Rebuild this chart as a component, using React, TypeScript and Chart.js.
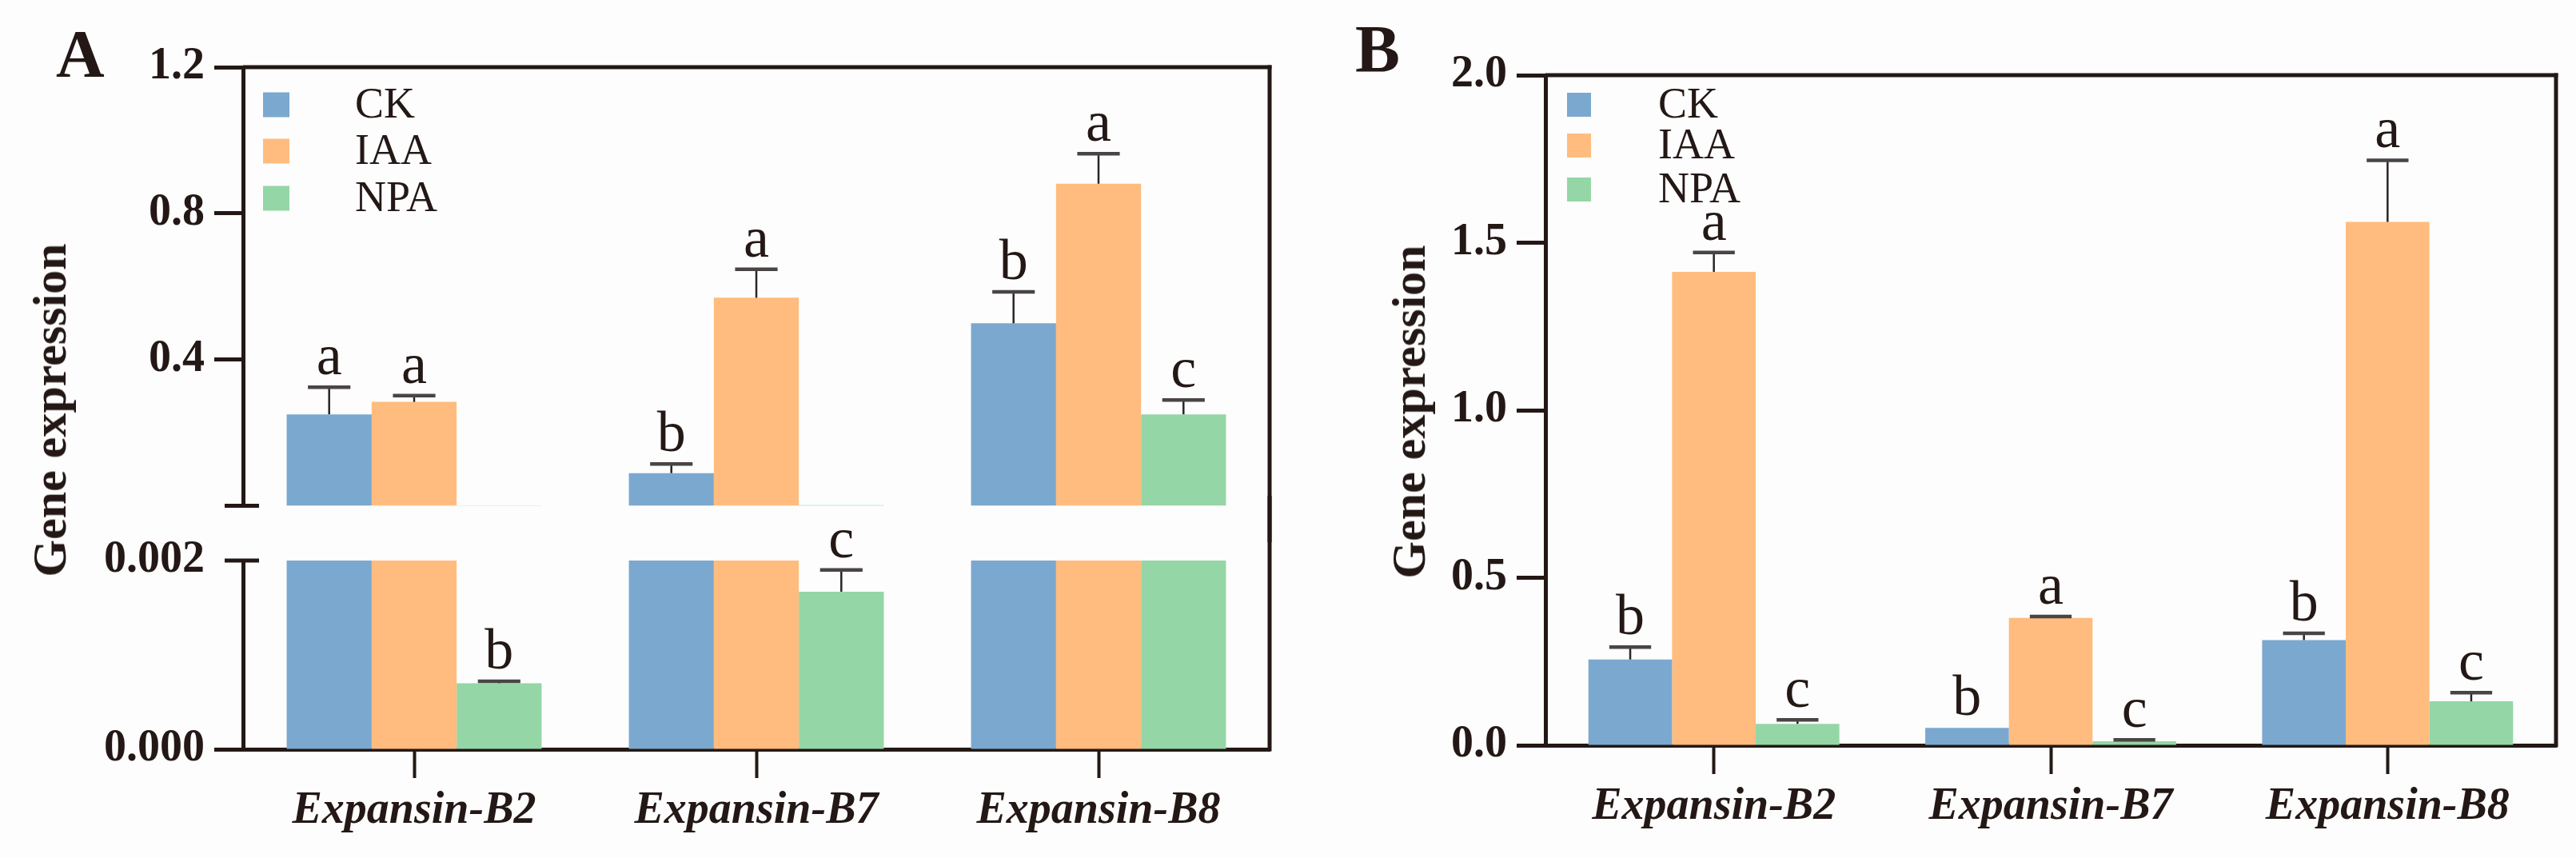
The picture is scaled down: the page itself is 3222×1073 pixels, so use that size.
import { useEffect, useRef } from "react";
import { Chart, registerables } from "chart.js";

Chart.register(...registerables);

const INK = "#231815";
const SERIF = "'Liberation Serif', 'Times New Roman', serif";

const genes = ["Expansin-B2", "Expansin-B7", "Expansin-B8"];
const treatments = ["CK", "IAA", "NPA"];
const barColors = ["#7ba8cf", "#ffbc7e", "#95d6a6"];

// panel A (broken axis): mean, upper SD, letters
const aCK = [0.25, 0.089, 0.499];
const aCKErr = [0.074, 0.025, 0.086];
const aCKSig = ["a", "b", "b"];
const aIAA = [0.284, 0.569, 0.881];
const aIAAErr = [0.017, 0.078, 0.082];
const aIAASig = ["a", "a", "a"];
const aNPA = [0.0007, 0.00167, 0.25];
const aNPAErr = [0.00002, 0.00023, 0.039];
const aNPASig = ["b", "c", "c"];
const aUpperTicks = [0.4, 0.8, 1.2];
const aLowerTicks = [0, 0.002];
const aBreak = 0.002;

// panel B
const bCK = [0.256, 0.052, 0.314];
const bCKErr = [0.037, 0, 0.02];
const bCKSig = ["b", "b", "b"];
const bIAA = [1.413, 0.38, 1.562];
const bIAAErr = [0.058, 0.004, 0.184];
const bIAASig = ["a", "a", "a"];
const bNPA = [0.064, 0.012, 0.131];
const bNPAErr = [0.012, 0.004, 0.026];
const bNPASig = ["c", "c", "c"];
const bTicks = [0, 0.5, 1.0, 1.5, 2.0];

type Spec = {
  means: number[][];
  errs: number[][];
  sigs: string[][];
  show: (v: number) => boolean;
  clamp: number;
  min: number;
  max: number;
  ticks: number[];
  digits: number;
  yWidth: number;
  pad: { top: number; right: number; bottom: number };
  xHeight: number | null;
  legend: { boxX: number; textX: number; ys: number[]; w: number; h: number } | null;
  caps: number[];
  hideTick: number | null;
  borderTop: boolean;
  rightFromCanvas: boolean;
  rightToCanvas: boolean;
};

const line = (ctx: CanvasRenderingContext2D, x1: number, y1: number, x2: number, y2: number, w: number, c: string) => {
  ctx.beginPath();
  ctx.lineWidth = w;
  ctx.strokeStyle = c;
  ctx.moveTo(x1, y1);
  ctx.lineTo(x2, y2);
  ctx.stroke();
};

const decor = (s: Spec) => ({
  id: "decor",
  afterDatasetsDraw(chart: any) {
    const ctx: CanvasRenderingContext2D = chart.ctx;
    const y = chart.scales.y;
    ctx.save();
    s.means.forEach((series, d) => {
      const meta = chart.getDatasetMeta(d);
      series.forEach((v, i) => {
        if (!s.show(v)) return;
        const bar = meta.data[i];
        const x = bar.x;
        const half = bar.width / 4;
        const err = s.errs[d][i];
        const yBar = y.getPixelForValue(v);
        const yTop = y.getPixelForValue(v + err);
        if (err > 0) {
          line(ctx, x, yBar, x, yTop, 2.5, "#2a2424");
          line(ctx, x - half, yTop, x + half, yTop, 4.5, "#4a4545");
        }
        ctx.fillStyle = INK;
        ctx.font = `72px ${SERIF}`;
        ctx.textAlign = "center";
        ctx.textBaseline = "alphabetic";
        ctx.fillText(s.sigs[d][i], x, Math.min(yTop, yBar) - 16);
      });
    });
    ctx.restore();
  },
  afterDraw(chart: any) {
    const ctx: CanvasRenderingContext2D = chart.ctx;
    const a = chart.chartArea;
    const y = chart.scales.y;
    ctx.save();
    if (s.borderTop) line(ctx, a.left, a.top, a.right + 2.5, a.top, 5, INK);
    line(ctx, a.right, s.rightFromCanvas ? 0 : a.top - 2.5, a.right, s.rightToCanvas ? chart.height : a.bottom + 2.5, 5, INK);
    s.caps.forEach((v) => {
      const py = y.getPixelForValue(v);
      line(ctx, a.left - 23, py, a.left + 20, py, 5, INK);
    });
    if (s.legend) {
      const L = s.legend;
      treatments.forEach((t, k) => {
        ctx.fillStyle = barColors[k];
        ctx.fillRect(L.boxX, L.ys[k] - L.h / 2, L.w, L.h);
        ctx.fillStyle = INK;
        ctx.font = `54px ${SERIF}`;
        ctx.textAlign = "left";
        ctx.textBaseline = "middle";
        ctx.fillText(t, L.textX, L.ys[k] + 2);
      });
    }
    ctx.restore();
  },
});

function buildConfig(s: Spec): any {
  return {
    type: "bar",
    data: {
      labels: genes,
      datasets: s.means.map((series, d) => ({
        label: treatments[d],
        data: series.map((v) => Math.min(v, s.clamp)),
        backgroundColor: barColors[d],
        borderWidth: 0,
        categoryPercentage: 0.745,
        barPercentage: 1,
      })),
    },
    options: {
      animation: false,
      responsive: true,
      maintainAspectRatio: false,
      events: [],
      layout: { padding: { left: 0, top: s.pad.top, right: s.pad.right, bottom: s.pad.bottom } },
      plugins: { legend: { display: false }, tooltip: { enabled: false } },
      scales: {
        x: {
          display: s.xHeight !== null,
          z: 1,
          grid: { offset: false, drawOnChartArea: false, drawTicks: true, tickLength: 36, tickWidth: 4, tickColor: INK },
          border: { display: true, color: INK, width: 5 },
          ticks: {
            color: INK,
            padding: 8,
            maxRotation: 0,
            autoSkip: false,
            font: { family: SERIF, size: 56, weight: "bold", style: "italic" },
          },
          afterFit: (sc: any) => {
            if (s.xHeight !== null) sc.height = s.xHeight;
          },
        },
        y: {
          min: s.min,
          max: s.max,
          z: 1,
          afterBuildTicks: (sc: any) => {
            sc.ticks = s.ticks.map((value) => ({ value }));
          },
          afterFit: (sc: any) => {
            sc.width = s.yWidth;
          },
          grid: {
            drawOnChartArea: false,
            drawTicks: true,
            tickLength: 36,
            tickWidth: 5,
            tickColor: (c: any) => (c.tick && c.tick.value === s.hideTick ? "rgba(0,0,0,0)" : INK),
          },
          border: { display: true, color: INK, width: 5 },
          ticks: {
            color: INK,
            padding: 12,
            font: { family: SERIF, size: 56, weight: "bold" },
            callback: (v: any) => Number(v).toFixed(s.digits),
          },
        },
      },
    },
    plugins: [decor(s)],
  };
}

const aMeans = [aCK, aIAA, aNPA];
const aErrs = [aCKErr, aIAAErr, aNPAErr];
const aSigs = [aCKSig, aIAASig, aNPASig];

// upper piece of panel A: canvas 0..678, plot bottom at 638
const upperSpec: Spec = {
  means: aMeans,
  errs: aErrs,
  sigs: aSigs,
  show: (v) => v > aBreak,
  clamp: Infinity,
  min: 0,
  max: 1.2,
  ticks: aUpperTicks,
  digits: 1,
  yWidth: 304,
  pad: { top: 84, right: 23, bottom: 40 },
  xHeight: null,
  legend: { boxX: 329, textX: 444, ys: [131, 189, 248], w: 33, h: 31 },
  caps: [0],
  hideTick: null,
  borderTop: true,
  rightFromCanvas: false,
  rightToCanvas: true,
};

// lower piece of panel A: canvas 620..1073, plot top at 701
const lowerSpec: Spec = {
  means: aMeans,
  errs: aErrs,
  sigs: aSigs,
  show: (v) => v <= aBreak,
  clamp: aBreak,
  min: 0,
  max: aBreak,
  ticks: aLowerTicks,
  digits: 3,
  yWidth: 304,
  pad: { top: 81, right: 23, bottom: 0 },
  xHeight: 136,
  legend: null,
  caps: [aBreak],
  hideTick: aBreak,
  borderTop: false,
  rightFromCanvas: true,
  rightToCanvas: false,
};

const bSpec: Spec = {
  means: [bCK, bIAA, bNPA],
  errs: [bCKErr, bIAAErr, bNPAErr],
  sigs: [bCKSig, bIAASig, bNPASig],
  show: () => true,
  clamp: Infinity,
  min: 0,
  max: 2,
  ticks: bTicks,
  digits: 1,
  yWidth: 322,
  pad: { top: 94, right: 25, bottom: 0 },
  xHeight: 141,
  legend: { boxX: 349, textX: 463, ys: [131, 182, 237], w: 30, h: 30 },
  caps: [],
  hideTick: null,
  borderTop: true,
  rightFromCanvas: false,
  rightToCanvas: false,
};

function BarPanel({ spec, left, top, width, height }: { spec: Spec; left: number; top: number; width: number; height: number }) {
  const ref = useRef<HTMLCanvasElement>(null);

  useEffect(() => {
    if (!ref.current) return;
    const chart = new Chart(ref.current, buildConfig(spec));
    return () => {
      chart.destroy();
    };
  }, [spec]);

  return (
    <div style={{ position: "absolute", left, top, width, height }}>
      <canvas ref={ref} />
    </div>
  );
}

const letterStyle = (left: number, top: number): React.CSSProperties => ({
  position: "absolute",
  left,
  top,
  fontFamily: SERIF,
  fontWeight: "bold",
  fontSize: 84,
  lineHeight: "84px",
  color: INK,
});

const yTitleStyle = (cx: number, cy: number): React.CSSProperties => ({
  position: "absolute",
  left: cx,
  top: cy,
  transform: "translate(-50%, -50%) rotate(-90deg)",
  fontFamily: SERIF,
  fontWeight: "bold",
  fontSize: 60,
  lineHeight: "60px",
  whiteSpace: "nowrap",
  color: INK,
});

export default function App() {
  useEffect(() => {
    document.body.style.margin = "0";
  }, []);

  return (
    <div style={{ position: "relative", width: 3222, height: 1073, background: "#fdfdfd", overflow: "hidden" }}>
      <BarPanel spec={upperSpec} left={0} top={0} width={1611} height={678} />
      <BarPanel spec={lowerSpec} left={0} top={620} width={1611} height={453} />
      <BarPanel spec={bSpec} left={1611} top={0} width={1611} height={1073} />
      <div style={letterStyle(70, 26)}>A</div>
      <div style={letterStyle(1695, 20)}>B</div>
      <div style={yTitleStyle(62, 513)}>Gene expression</div>
      <div style={yTitleStyle(1762, 515)}>Gene expression</div>
    </div>
  );
}
